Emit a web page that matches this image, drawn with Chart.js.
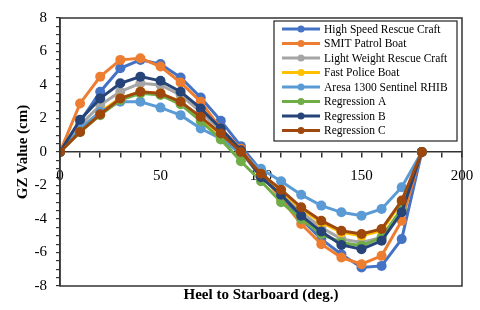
<!DOCTYPE html>
<html>
<head>
<meta charset="utf-8">
<script src="https://cdn.jsdelivr.net/npm/chart.js@4.4.1/dist/chart.umd.min.js"></script>
<style>
  html, body { margin: 0; padding: 0; background: #fff; }
  #wrap { width: 480px; height: 310px; }
</style>
</head>
<body>
<div id="wrap"><canvas id="gzChart"></canvas></div>
<script>
(() => {
  "use strict";

  // Heel angles (deg.)
  const heelAngles = [0, 10, 20, 30, 40, 50, 60, 70, 80, 90, 100, 110, 120, 130, 140, 150, 160, 170, 180];

  // GZ values (cm)
  const highSpeedRescueCraft = [0, 1.8, 3.6, 5.0, 5.5, 5.25, 4.45, 3.25, 1.87, 0.35, -1.1, -2.7, -4.0, -5.2, -6.1, -6.9, -6.8, -5.2, 0];
  const smitPatrolBoat = [0, 2.9, 4.5, 5.5, 5.6, 5.1, 4.15, 3.0, 1.4, 0.2, -1.3, -2.8, -4.3, -5.5, -6.3, -6.7, -6.2, -4.1, 0];
  const lightWeightRescueCraft = [0, 1.6, 2.8, 3.6, 4.1, 4.0, 3.4, 2.4, 1.3, 0, -1.5, -2.5, -3.6, -4.5, -5.2, -5.4, -5.1, -3.4, 0];
  const fastPoliceBoat = [0, 1.4, 2.4, 3.2, 3.6, 3.5, 3.0, 2.0, 1.0, 0, -1.3, -2.3, -3.4, -4.2, -4.8, -5.0, -4.7, -3.0, 0];
  const aresaSentinelRhib = [0, 1.4, 2.4, 3.0, 3.0, 2.65, 2.2, 1.4, 0.8, -0.1, -1.0, -1.75, -2.55, -3.2, -3.6, -3.8, -3.4, -2.1, 0];
  const regressionA = [0, 1.2, 2.2, 3.1, 3.5, 3.4, 2.85, 1.85, 0.75, -0.55, -1.75, -3.0, -4.0, -4.9, -5.4, -5.6, -5.1, -3.4, 0];
  const regressionB = [0, 1.93, 3.2, 4.1, 4.5, 4.25, 3.6, 2.6, 1.4, 0.1, -1.5, -2.55, -3.8, -4.75, -5.55, -5.8, -5.3, -3.6, 0];
  const regressionC = [0, 1.2, 2.25, 3.2, 3.6, 3.5, 3.0, 2.1, 1.1, 0, -1.3, -2.25, -3.3, -4.1, -4.7, -4.9, -4.6, -2.9, 0];

  const seriesNames = [
    "High Speed Rescue Craft",
    "SMIT Patrol Boat",
    "Light Weight Rescue Craft",
    "Fast Police Boat",
    "Aresa 1300 Sentinel RHIB",
    "Regression A",
    "Regression B",
    "Regression C",
  ];
  const seriesValues = [
    highSpeedRescueCraft, smitPatrolBoat, lightWeightRescueCraft, fastPoliceBoat,
    aresaSentinelRhib, regressionA, regressionB, regressionC,
  ];
  const seriesColors = ["#4472C4", "#ED7D31", "#A5A5A5", "#FFC000", "#5B9BD5", "#70AD47", "#264478", "#9E480E"];

  const serif = "'Liberation Serif', 'Times New Roman', serif";

  const datasets = seriesNames.map((name, i) => ({
    label: name,
    data: heelAngles.map((x, j) => ({ x: x, y: seriesValues[i][j] })),
    borderColor: seriesColors[i],
    backgroundColor: seriesColors[i],
    pointBackgroundColor: seriesColors[i],
    pointBorderColor: seriesColors[i],
    borderWidth: 3,
    pointRadius: 5,
    pointBorderWidth: 0,
    tension: 0,
    order: seriesNames.length - i, // later series drawn on top, like the original
  }));

  // Frame round the plot area and the legend inside it
  const frameAndLegend = {
    id: "frameAndLegend",
    afterDraw(chart) {
      const { ctx, chartArea } = chart;
      ctx.save();
      ctx.strokeStyle = "#333";
      ctx.lineWidth = 1.5;
      ctx.strokeRect(chartArea.left, chartArea.top, chartArea.right - chartArea.left, chartArea.bottom - chartArea.top);

      const boxLeft = chartArea.right - 188;
      const boxTop = chartArea.top + 3;
      const boxW = 183;
      const rowH = 14.5;
      const boxH = rowH * seriesNames.length + 4;
      ctx.fillStyle = "#fff";
      ctx.fillRect(boxLeft, boxTop, boxW, boxH);
      ctx.strokeStyle = "#222";
      ctx.lineWidth = 1.2;
      ctx.strokeRect(boxLeft, boxTop, boxW, boxH);

      ctx.font = "11.5px " + serif;
      ctx.textBaseline = "middle";
      ctx.textAlign = "left";
      chart.data.datasets.forEach((ds, i) => {
        const y = boxTop + 8 + i * rowH;
        ctx.strokeStyle = ds.borderColor;
        ctx.lineWidth = 3;
        ctx.beginPath();
        ctx.moveTo(boxLeft + 8, y);
        ctx.lineTo(boxLeft + 46, y);
        ctx.stroke();
        ctx.fillStyle = ds.borderColor;
        ctx.beginPath();
        ctx.arc(boxLeft + 27, y, 3.5, 0, Math.PI * 2);
        ctx.fill();
        ctx.fillStyle = "#000";
        ctx.fillText(ds.label, boxLeft + 50, y + 0.5);
      });
      ctx.restore();
    },
  };

  new Chart(document.getElementById("gzChart"), {
    type: "line",
    data: { datasets: datasets },
    plugins: [frameAndLegend],
    options: {
      responsive: true,
      maintainAspectRatio: false,
      animation: false,
      layout: { padding: { top: 14, right: 18, bottom: 6, left: 14 } },
      plugins: {
        legend: { display: false },
        tooltip: { enabled: false },
      },
      scales: {
        x: {
          type: "linear",
          min: 0,
          max: 200,
          position: { y: 0 },
          // axis sits on y = 0 and takes no layout room
          afterFit: (scale) => {
            scale.height = 0;
            scale.paddingLeft = 0;
            scale.paddingRight = 0;
          },
          grid: { display: true, drawOnChartArea: false, tickLength: 5, color: "#333", lineWidth: 1.5 },
          border: { display: true, color: "#333", width: 1.5 },
          ticks: {
            stepSize: 10,
            autoSkip: false,
            maxRotation: 0,
            padding: 10,
            color: "#000",
            font: { family: serif, size: 15 },
            callback: (v) => (v % 50 === 0 ? String(v) : ""),
          },
        },
        xTitle: {
          type: "linear",
          axis: "x",
          position: "bottom",
          min: 0,
          max: 200,
          grid: { display: false, drawTicks: false },
          border: { display: false },
          ticks: { display: false },
          title: {
            display: true,
            text: "Heel to Starboard (deg.)",
            color: "#000",
            padding: { top: 0, bottom: 0 },
            font: { family: serif, size: 15, weight: "bold" },
          },
        },
        y: {
          type: "linear",
          min: -8,
          max: 8,
          afterFit: (scale) => { scale.width = 46; },
          grid: { display: true, drawOnChartArea: false, tickLength: 4, color: "#333", lineWidth: 1.2 },
          border: { display: true, color: "#333", width: 1.5 },
          ticks: {
            stepSize: 0.5,
            autoSkip: false,
            padding: 9,
            color: "#000",
            font: { family: serif, size: 15 },
            callback: (v) => (v % 2 === 0 ? String(v) : ""),
          },
          title: {
            display: true,
            text: "GZ Value (cm)",
            color: "#000",
            padding: { top: 0, bottom: 0 },
            font: { family: serif, size: 15, weight: "bold" },
          },
        },
      },
    },
  });
})();
</script>
</body>
</html>
